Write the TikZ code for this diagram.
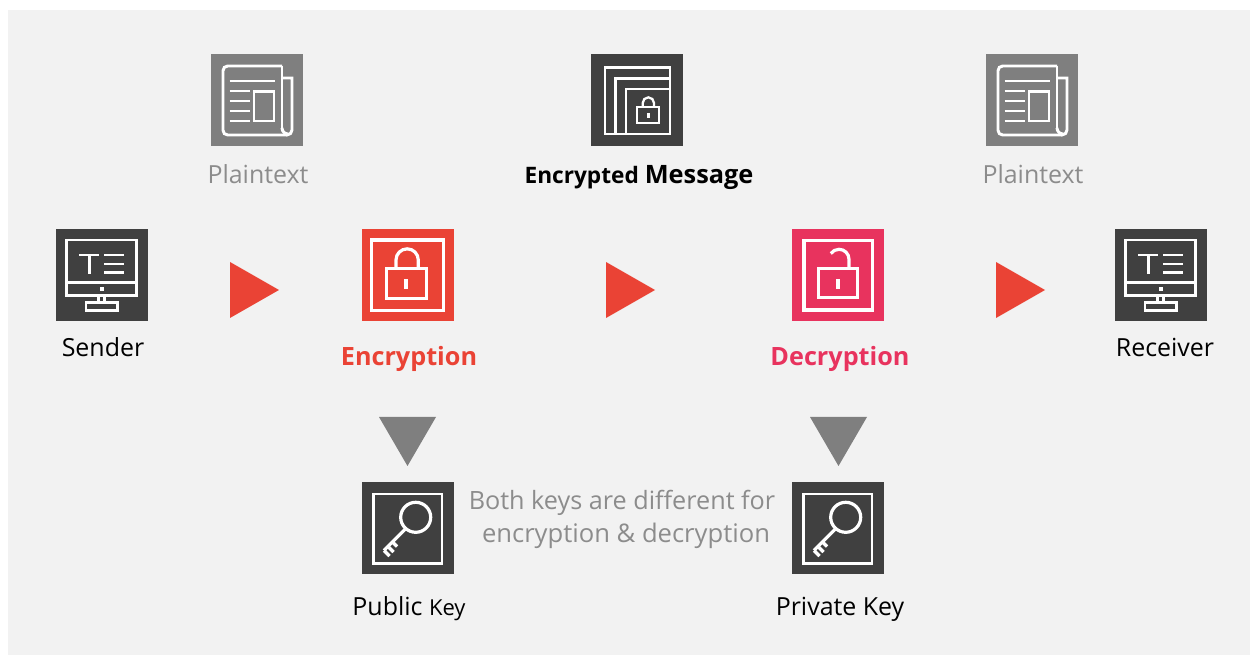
\documentclass[tikz,border=0pt]{standalone}
\usepackage{fontspec}
\setmainfont{Open Sans}
\definecolor{dark}{HTML}{404040}
\definecolor{midgrey}{HTML}{7F7F7F}
\definecolor{txtgrey}{HTML}{8C8C8C}
\definecolor{redA}{HTML}{EA4335}
\definecolor{redB}{HTML}{E8335E}
\definecolor{panel}{HTML}{F2F2F2}
\newcommand{\fsz}[1]{\fontsize{#1}{#1}\selectfont}
\tikzset{
  x=0.75pt,y=-0.75pt,
  iconbox/.style={draw=none,minimum size=69pt,inner sep=0pt,outer sep=0pt,anchor=north west},
  ink/.style={draw=white,line width=2.2pt,line join=miter},
  lbl/.style={anchor=base,inner sep=0pt,font=\fsz{18.7},text=black},
  glbl/.style={lbl,text=txtgrey},
  paper/.pic={
    \draw[ink,rounded corners=3.5pt] (71,12)--(12,12)--(12,81)--(76,81);
    \draw[ink] (71,12)--(71,74);
    \draw[ink] (71,24)--(81,24)--(81,76) arc[start angle=0,end angle=90,radius=5]--(75,81);
    \draw[ink] (71,74) arc[start angle=180,end angle=90,radius=6];
    \draw[ink] (18.5,27)--(64,27);
    \foreach \yy in {37,47,57,67} \draw[ink] (18.5,\yy)--(39,\yy);
    \draw[ink] (43,37.5) rectangle (63,67);
  },
  stack/.pic={
    \draw[ink] (14,80)--(14,13.5)--(79,13.5)--(79,80)--cycle;
    \draw[ink] (24.7,80)--(24.7,24.3)--(79,24.3);
    \draw[ink] (35,80)--(35,35)--(79,35);
    \draw[white,line width=1.7pt] (46.3,52.7) rectangle (68,69.3);
    \draw[white,line width=1.7pt] (51.7,52.7)--(51.7,49) arc[start angle=180,end angle=360,radius=5.65]--(63,52.7);
    \fill[white] (55.8,59) rectangle (58.8,63.7);
  },
  screen/.pic={
    \draw[ink] (10.7,11) rectangle (80.7,66.3);
    \draw[ink] (10.7,53.7)--(80.7,53.7);
    \fill[white] (43.7,58) rectangle (47.7,62);
    \draw[ink] (42.3,66.3)--(42.3,73.7);
    \draw[ink] (48.5,66.3)--(48.5,73.7);
    \draw[ink] (30,73.7) rectangle (61.3,81.3);
    \draw[ink] (23.3,26)--(43.3,26);
    \draw[ink] (33.5,26)--(33.5,45.5);
    \foreach \yy in {26,35,43.5} \draw[ink] (48,\yy)--(68,\yy);
  },
  closedlock/.pic={
    \draw[ink,line width=2.4pt] (9.7,11) rectangle (81.3,81.7);
    \draw[ink,line width=2.4pt] (24.7,39.7) rectangle (64.7,69.3);
    \draw[ink,line width=2.4pt] (34,39.7)--(34,31) arc[start angle=180,end angle=360,radius=11.15]--(56.3,39.7);
    \fill[white] (42.3,50.3) rectangle (46.3,60.3);
  },
  openlock/.pic={
    \draw[ink,line width=2.4pt] (12,11.7) rectangle (80.7,81);
    \draw[ink,line width=2.4pt] (26.7,39.7) rectangle (65.3,68.7);
    \draw[ink,line width=2.4pt] (57,39.7)--(57,30.3) arc[start angle=360,end angle=215,radius=10];
    \fill[white] (43.8,50.3) rectangle (47.8,60.3);
  },
  keyicon/.pic={
    \draw[ink] (11.3,12) rectangle (80,81.3);
    \draw[ink,line width=2.4pt] (53.7,35.3) circle[radius=15];
    \draw[ink,line width=2.4pt] (43,47.3)--(22,68.5);
    \draw[ink,line width=2.4pt] (22,68.5)--(27.5,74);
    \draw[ink,line width=2.4pt] (26,64.5)--(31.5,70);
    \draw[ink,line width=2.4pt] (30.5,60)--(35,64.5);
  },
}
\begin{document}
\begin{tikzpicture}
\useasboundingbox (0,0) rectangle (1250,655);
\fill[white] (0,0) rectangle (1250,655);
\fill[panel] (8,10) rectangle (1250,655);

\node[iconbox,fill=midgrey] (ptL) at (211,54) {};
\pic at (ptL.north west) {paper};
\node[iconbox,fill=dark] (enc) at (591,54) {};
\pic at (enc.north west) {stack};
\node[iconbox,fill=midgrey] (ptR) at (986,54) {};
\pic at (ptR.north west) {paper};
\node[iconbox,fill=dark] (snd) at (56,229) {};
\pic at (snd.north west) {screen};
\node[iconbox,fill=redA] (lock) at (362,229) {};
\pic at (lock.north west) {closedlock};
\node[iconbox,fill=redB] (unlock) at (792,229) {};
\pic at (unlock.north west) {openlock};
\node[iconbox,fill=dark] (rcv) at (1115,229) {};
\pic at (rcv.north west) {screen};
\node[iconbox,fill=dark] (pub) at (362,482) {};
\pic at (pub.north west) {keyicon};
\node[iconbox,fill=dark] (prv) at (792,482) {};
\pic at (prv.north west) {keyicon};

\fill[redA] (230,262)--(279,290)--(230,318)--cycle;
\fill[redA] (606,262)--(655,290)--(606,318)--cycle;
\fill[redA] (996,262)--(1045,290)--(996,318)--cycle;
\fill[midgrey] (379,417)--(436,417)--(407.5,466)--cycle;
\fill[midgrey] (810,417)--(867,417)--(838.5,466)--cycle;

\node[glbl] (t1) at (258,184) {Plaintext};
\node[lbl,font=\fsz{17}\bfseries] (t2) at (639,184) {Encrypted {\fsz{19}Message}};
\node[glbl] (t3) at (1033,184) {Plaintext};
\node[lbl] (t4) at (103,357) {Sender};
\node[lbl,font=\fsz{18.9}\bfseries,text=redA] (t5) at (409,366) {Encryption};
\node[lbl,font=\fsz{18.9}\bfseries,text=redB] (t6) at (840,366) {Decryption};
\node[lbl] (t7) at (1165,357) {Receiver};
\node[glbl,font=\fsz{18.9}] (t8) at (622,510) {Both keys are different for};
\node[glbl,font=\fsz{19.2}] (t9) at (626,543) {encryption \& decryption};
\node[lbl] (t10) at (409,615) {Public {\fsz{16.5}Key}};
\node[lbl] (t11) at (840,615) {Private Key};
\end{tikzpicture}
\end{document}
